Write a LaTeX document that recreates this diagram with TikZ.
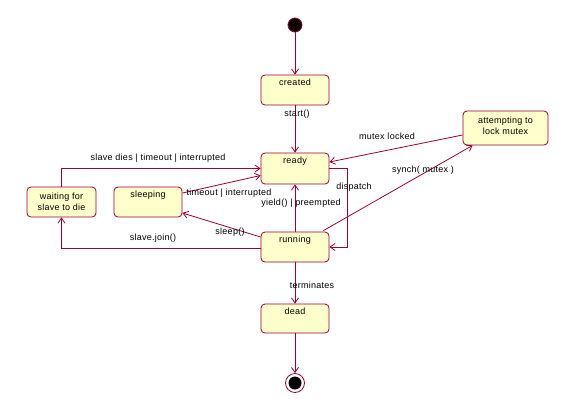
\documentclass[tikz,border=0pt]{standalone}
\usepackage{fontspec}
\setmainfont{Liberation Sans}[LetterSpace=3]
\usetikzlibrary{arrows.meta,calc}
\definecolor{lc}{HTML}{990033}
\definecolor{fillc}{HTML}{FFFFCC}
\begin{document}
\begin{tikzpicture}[x=1pt,y=-1pt,
  st/.style={draw=lc, fill=fillc, rounded corners=4pt, minimum width=68pt, minimum height=30pt, inner sep=0pt, line width=0.8pt},
  stxt/.style={font=\fontsize{9}{10.5}\selectfont, inner sep=0pt, anchor=north, align=center},
  mtxt/.style={font=\fontsize{9}{11.5}\selectfont, inner sep=0pt, align=center},
  tr/.style={draw=lc, line width=0.8pt, -{Straight Barb[length=5pt,width=7pt]}},
  lab/.style={font=\fontsize{9}{10.5}\selectfont, inner sep=1pt}]
\useasboundingbox[fill=white] (0,0) rectangle (575,416);
% states
\node[circle, fill=black, draw=lc, line width=0.8pt, minimum size=14pt, inner sep=0pt] (start) at (295,25) {};
\node[st] (created) at (295,90) {};
\node[stxt] (createdt) at ($(created.north)+(0pt,-4pt)$) {created};
\node[st, minimum height=31pt] (ready) at (295,168.5) {};
\node[stxt] (readyt) at ($(ready.north)+(0pt,-4pt)$) {ready};
\node[st] (running) at (295,247) {};
\node[stxt] (runningt) at ($(running.north)+(0pt,-4pt)$) {running};
\node[st, minimum height=29pt] (dead) at (295,318.5) {};
\node[stxt] (deadt) at ($(dead.north)+(0pt,-4pt)$) {dead};
\node[st, minimum width=69pt] (waiting) at (61.5,202) {};
\node[mtxt] (waitingt) at (waiting.center) {waiting for\\slave to die};
\node[st] (sleeping) at (148,202) {};
\node[stxt] (sleepingt) at ($(sleeping.north)+(0pt,-4pt)$) {sleeping};
\node[st, minimum width=85pt, minimum height=34pt] (attempt) at (505.5,128) {};
\node[mtxt] (attemptt) at ($(attempt.center)+(0pt,2pt)$) {attempting to\\lock mutex};
\node[circle, draw=lc, fill=white, line width=0.8pt, minimum size=19pt, inner sep=0pt] (end) at (295,383) {};
\node[circle, fill=black, minimum size=13pt, inner sep=0pt] (endin) at (end.center) {};
% transitions
\draw[tr] (start) -- (created.north);
\draw[tr] (created) -- (ready.north);
\draw[tr] (waiting.north) |- (ready.west);
\draw[tr] ($(sleeping.east)+(0pt,9pt)$) -- ($(ready.west)+(0pt,-7pt)$);
\draw[tr] ($(running.west)+(0pt,10pt)$) -- ($(sleeping.east)+(0pt,-11pt)$);
\draw[tr] ($(running.west)+(0pt,-1pt)$) -| (waiting.south);
\draw[tr] (running.north) -- (ready.south);
\draw[tr] (ready.east) -- ++(18pt,0pt) coordinate (dp) |- (running.east);
\draw[tr] ($(attempt.west)+(0pt,-7pt)$) -- ($(ready.east)+(0pt,6.5pt)$);
\draw[tr] ($(running.north east)+(-6pt,1pt)$) -- ($(attempt.south west)+(10pt,0pt)$);
\draw[tr] (running.south) -- (dead.north);
\draw[tr] (dead.south) -- (end.north);
% labels
\node[lab] (l1) at (297,114) {start()};
\node[lab] (l2) at (158,158) {slave dies | timeout | interrupted};
\node[lab] (l3) at (229,193) {timeout | interrupted};
\node[lab] (l4) at (230,232) {sleep()};
\node[lab] (l5) at (153,238) {slave.join()};
\node[lab] (l6) at (301,203) {yield() | preempted};
\node[lab] (l7) at (354,187) {dispatch};
\node[lab] (l8) at (387,136) {mutex locked};
\node[lab] (l9) at (423,170) {synch( mutex )};
\node[lab] (l10) at (312,285) {terminates};
\end{tikzpicture}
\end{document}
